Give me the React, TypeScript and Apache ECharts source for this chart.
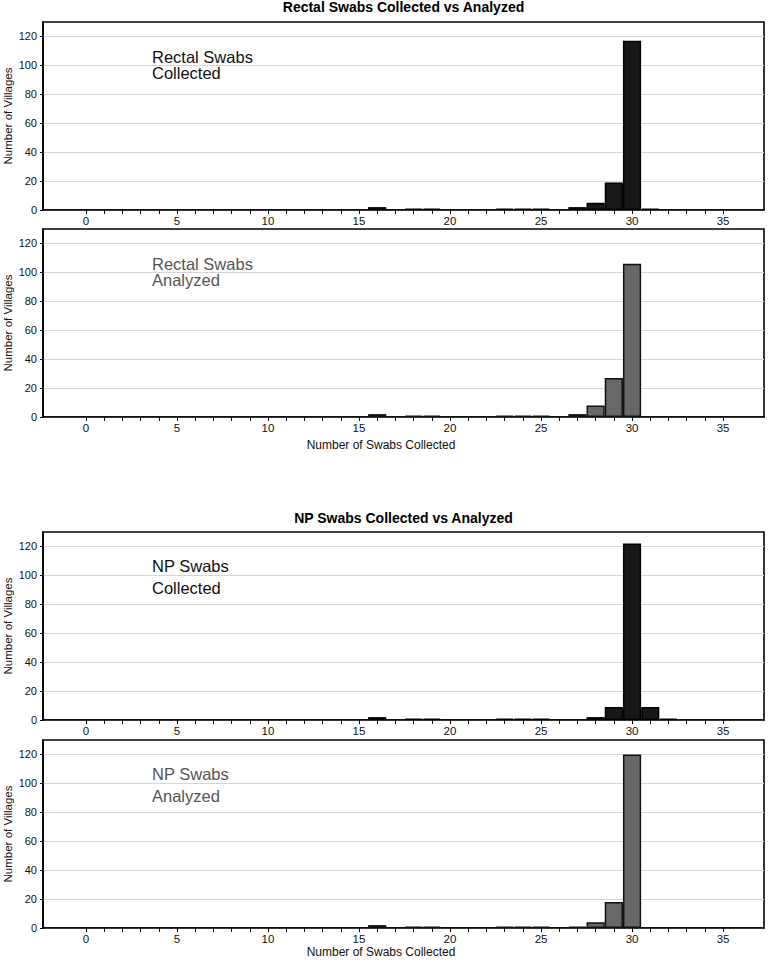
import React, { useEffect, useRef } from "react";
import * as echarts from "echarts";

// Histogram counts: [number of swabs, number of villages]
const rectalCollected: [number, number][] = [
  [16, 2], [18, 1], [19, 1], [23, 1], [24, 1], [25, 1],
  [27, 2], [28, 5], [29, 19], [30, 117], [31, 1],
];
const rectalAnalyzed: [number, number][] = [
  [16, 2], [18, 1], [19, 1], [23, 1], [24, 1], [25, 1],
  [27, 2], [28, 8], [29, 27], [30, 106],
];
const npCollected: [number, number][] = [
  [16, 2], [18, 1], [19, 1], [23, 1], [24, 1], [25, 1],
  [28, 2], [29, 9], [30, 122], [31, 9], [32, 1],
];
const npAnalyzed: [number, number][] = [
  [16, 2], [18, 1], [19, 1], [23, 1], [24, 1], [25, 1],
  [27, 1], [28, 4], [29, 18], [30, 120],
];

const xLabelValues = [0, 5, 10, 15, 20, 25, 30, 35];
const xTickValues = [
  0, 1, 2, 3, 4, 5, 6, 7, 8, 9, 10, 11, 12, 13, 14, 15, 16, 17,
  18, 19, 20, 21, 22, 23, 24, 25, 26, 27, 28, 29, 30, 31, 32, 33, 34, 35,
];
const yTickValues = [0, 20, 40, 60, 80, 100, 120];

const titles = ["Rectal Swabs Collected vs Analyzed", "NP Swabs Collected vs Analyzed"];
const panelNotes = [
  "Rectal Swabs\nCollected",
  "Rectal Swabs\nAnalyzed",
  "NP Swabs\nCollected",
  "NP Swabs\nAnalyzed",
];
const yName = "Number of Villages";
const xName = "Number of Swabs Collected";

const FONT = "'Liberation Sans', Arial, Helvetica, sans-serif";

export default function App() {
  const ref = useRef<HTMLDivElement>(null);

  useEffect(() => {
    document.body.style.margin = "0";
    if (!ref.current) return;
    const chart = echarts.init(ref.current, undefined, { renderer: "svg" });

    const panelTops = [22, 229, 532, 740];
    const panelHeight = 188;
    const seriesData = [rectalCollected, rectalAnalyzed, npCollected, npAnalyzed];
    const dark = { fill: "#181818", stroke: "#000000", note: "#111111" };
    const grey = { fill: "#686868", stroke: "#111111", note: "#555555" };
    const palette = [dark, grey, dark, grey];

    const grid = panelTops.map((top) => ({
      left: 43,
      right: 4,
      top,
      height: panelHeight,
      show: true,
      borderColor: "#000",
      borderWidth: 1.6,
      backgroundColor: "transparent",
      containLabel: false,
      outerBoundsMode: "none",
    }));

    const xAxis = panelTops.map((_, i) => ({
      type: "value",
      gridIndex: i,
      min: -2.36,
      max: 37.25,
      splitLine: { show: false },
      axisLine: { show: true, onZero: false, lineStyle: { color: "#000", width: 1.6 } },
      axisTick: {
        show: true,
        customValues: xTickValues,
        length: 4,
        lineStyle: { color: "#000", width: 1 },
      },
      axisLabel: {
        customValues: xLabelValues,
        margin: 5,
        fontSize: 11.5,
        color: "#111",
        fontFamily: FONT,
      },
    }));

    const yAxis = panelTops.map((_, i) => ({
      type: "value",
      gridIndex: i,
      min: 0,
      max: 130,
      interval: 20,
      axisLine: { show: true, onZero: false, lineStyle: { color: "#000", width: 1.6 } },
      axisTick: {
        show: true,
        customValues: yTickValues,
        length: 3,
        lineStyle: { color: "#000", width: 1 },
      },
      axisLabel: {
        customValues: yTickValues,
        margin: 6,
        fontSize: 11,
        color: "#111",
        fontFamily: FONT,
      },
      splitLine: { show: true, lineStyle: { color: "#d6d6d6", width: 1 } },
    }));

    const series = seriesData.map((data, i) => ({
      type: "bar",
      xAxisIndex: i,
      yAxisIndex: i,
      data,
      barWidth: 18.2,
      itemStyle: {
        color: palette[i].fill,
        borderColor: palette[i].stroke,
        borderWidth: 1.5,
      },
    }));

    const graphic: any[] = [];
    titles.forEach((t, i) => {
      graphic.push({
        type: "text",
        x: 403.5,
        y: i === 0 ? 7 : 518,
        style: {
          text: t,
          fontSize: 14,
          fontWeight: "bold",
          fill: "#000",
          fontFamily: FONT,
          textAlign: "center",
          textVerticalAlign: "middle",
        },
      });
    });
    panelTops.forEach((top) => {
      // vertical axis title, centred on the panel
      graphic.push({
        type: "text",
        x: 8,
        y: top + panelHeight / 2,
        rotation: Math.PI / 2,
        style: {
          text: yName,
          fontSize: 11.5,
          fill: "#111",
          fontFamily: FONT,
          textAlign: "center",
          textVerticalAlign: "middle",
        },
      });
    });
    panelNotes.forEach((t, i) => {
      const np = i >= 2;
      const lh = np ? 21.6 : 16.5;
      graphic.push({
        type: "text",
        x: 152,
        y: panelTops[i] + 34.5 - lh / 2,
        style: {
          text: t,
          fontSize: 16.5,
          lineHeight: lh,
          fill: palette[i].note,
          fontFamily: FONT,
          textAlign: "left",
          textVerticalAlign: "top",
        },
      });
    });
    [445, 952].forEach((y) => {
      graphic.push({
        type: "text",
        x: 381,
        y,
        style: {
          text: xName,
          fontSize: 12,
          fill: "#111",
          fontFamily: FONT,
          textAlign: "center",
          textVerticalAlign: "middle",
        },
      });
    });

    chart.setOption({
      animation: false,
      backgroundColor: "#fff",
      textStyle: { fontFamily: FONT },
      grid,
      xAxis,
      yAxis,
      series,
      graphic,
    } as any);

    return () => chart.dispose();
  }, []);

  return <div ref={ref} style={{ width: 768, height: 963 }} />;
}
